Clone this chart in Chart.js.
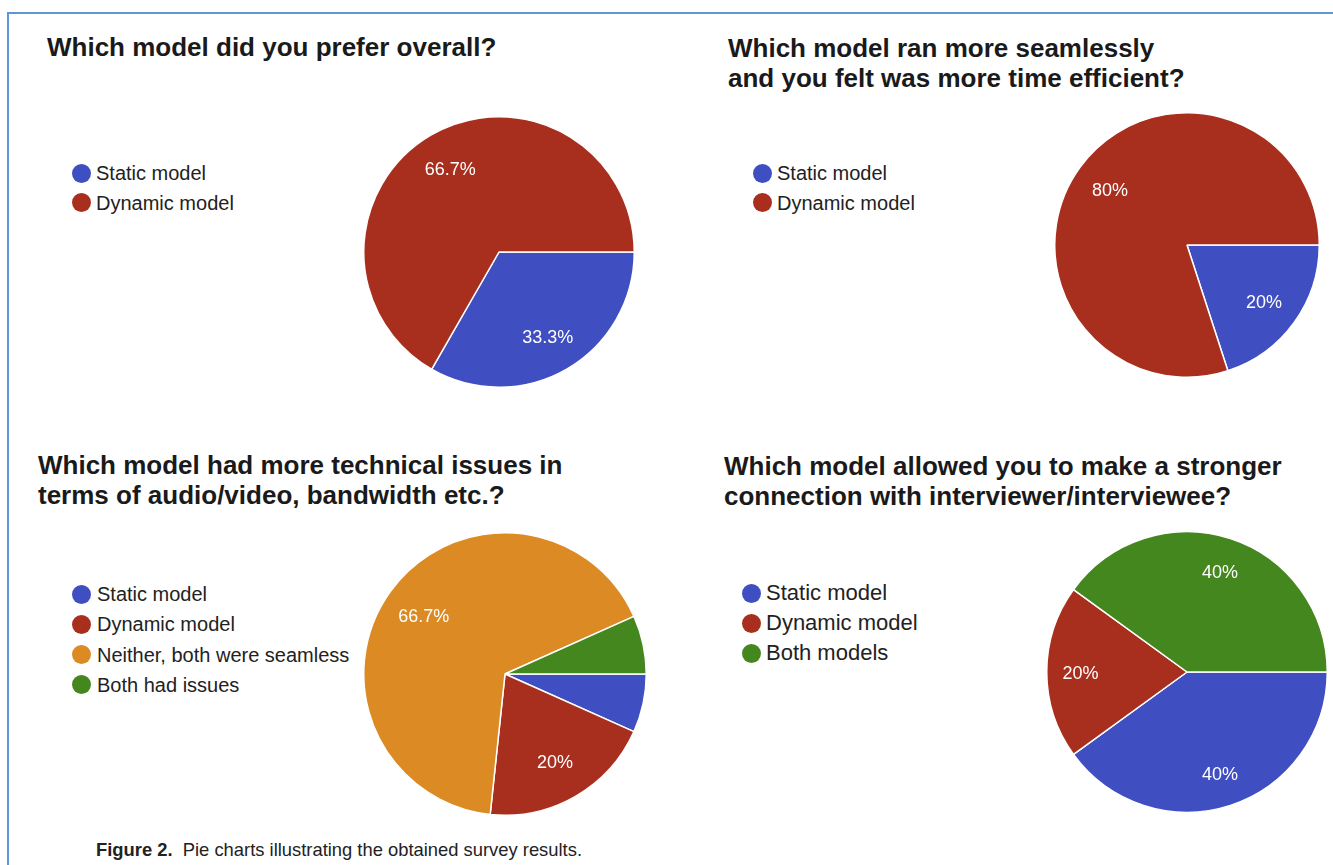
<!DOCTYPE html>
<html>
<head>
<meta charset="utf-8">
<script src="https://cdn.jsdelivr.net/npm/chart.js@4/dist/chart.umd.min.js"></script>
<style>
  html, body { margin: 0; padding: 0; background: #ffffff; }
  body { width: 1333px; height: 865px; position: relative; overflow: hidden; font-family: "Liberation Sans", Arial, sans-serif; }
  .abs { position: absolute; white-space: nowrap; }
  .title { font-weight: bold; font-size: 26px; line-height: 30px; color: #1a1a1a; }
  .leg { font-size: 20px; line-height: 30px; color: #222; }
  .dot { position: absolute; border-radius: 50%; }
  .cap { font-family: "Liberation Sans", Arial, sans-serif; font-size: 19px; line-height: 22px; color: #222; transform-origin: 0 0; }
  #bt { position: absolute; left: 7px; top: 12px; width: 1326px; height: 2px; background: #5b97d9; }
  #bl { position: absolute; left: 7px; top: 12px; width: 2px; height: 853px; background: #5b97d9; }
</style>
</head>
<body>
<div id="bt"></div><div id="bl"></div>
<script>
// ---- data ----
const preferLabels = ['Static model', 'Dynamic model'];
const preferValues = [33.3, 66.7];

const seamlessLabels = ['Static model', 'Dynamic model'];
const seamlessValues = [20, 80];

const techLabels = ['Static model', 'Dynamic model', 'Neither, both were seamless', 'Both had issues'];
const techValues = [6.7, 20, 66.7, 6.7];

const connLabels = ['Static model', 'Dynamic model', 'Both models'];
const connValues = [40, 20, 40];

const titles = [
  ['Which model did you prefer overall?'],
  ['Which model ran more seamlessly', 'and you felt was more time efficient?'],
  ['Which model had more technical issues in', 'terms of audio/video, bandwidth etc.?'],
  ['Which model allowed you to make a stronger', 'connection with interviewer/interviewee?']
];
const captionBold = 'Figure 2.';
const captionText = 'Pie charts illustrating the obtained survey results.';

// ---- styles / layout ----
const BLUE = '#3f4ec0', RED = '#a82f1e', ORANGE = '#dc8a24', GREEN = '#45871f';

const layouts = [
  { labels: preferLabels, values: preferValues, colors: [BLUE, RED], cx: 499, cy: 252, r: 136, lf: 0.72,
    tx: 47, ty: 32, lx: 81, ly: 173, lstep: 29.5, lfont: 20, ltx: 96 },
  { labels: seamlessLabels, values: seamlessValues, colors: [BLUE, RED], cx: 1187, cy: 245, r: 133, lf: 0.72,
    tx: 728, ty: 33, lx: 762, ly: 173, lstep: 29.5, lfont: 20, ltx: 777 },
  { labels: techLabels, values: techValues, colors: [BLUE, RED, ORANGE, GREEN], cx: 505, cy: 674, r: 142, lf: 0.71,
    tx: 38, ty: 450, lx: 81, ly: 594, lstep: 30.3, lfont: 20, ltx: 97 },
  { labels: connLabels, values: connValues, colors: [BLUE, RED, GREEN], cx: 1187, cy: 672, r: 141, lf: 0.76,
    tx: 724, ty: 451, lx: 751, ly: 593, lstep: 30, lfont: 22, ltx: 766 }
];

function fmt(v) { return (Math.round(v) === v ? v : v.toFixed(1)) + '%'; }

const sliceLabelPlugin = {
  id: 'sliceLabels',
  afterDatasetsDraw(chart, args, opts) {
    const ctx = chart.ctx;
    const meta = chart.getDatasetMeta(0);
    const data = chart.data.datasets[0].data;
    ctx.save();
    ctx.fillStyle = '#ffffff';
    ctx.font = '18px "Liberation Sans", Arial, sans-serif';
    ctx.textAlign = 'center';
    ctx.textBaseline = 'middle';
    meta.data.forEach((arc, i) => {
      if (data[i] < 10) return;
      const p = arc.getProps(['x', 'y', 'startAngle', 'endAngle', 'outerRadius'], true);
      const a = (p.startAngle + p.endAngle) / 2;
      const rr = p.outerRadius * opts.factor;
      ctx.fillText(fmt(data[i]), p.x + Math.cos(a) * rr, p.y + Math.sin(a) * rr + 2);
    });
    ctx.restore();
  }
};

function addDiv(cls, text, left, top, extra) {
  const d = document.createElement('div');
  d.className = 'abs ' + cls;
  d.textContent = text;
  d.style.left = left + 'px';
  d.style.top = top + 'px';
  if (extra) Object.assign(d.style, extra);
  document.body.appendChild(d);
  return d;
}

layouts.forEach((L, k) => {
  titles[k].forEach((line, j) => addDiv('title', line, L.tx, L.ty + j * 30));
  L.labels.forEach((lab, i) => {
    const cy = L.ly + i * L.lstep;
    const dot = document.createElement('div');
    dot.className = 'dot';
    const rad = 9.5;
    dot.style.left = (L.lx - rad) + 'px';
    dot.style.top = (cy - rad) + 'px';
    dot.style.width = (2 * rad) + 'px';
    dot.style.height = (2 * rad) + 'px';
    dot.style.background = L.colors[i];
    document.body.appendChild(dot);
    addDiv('leg', lab, L.ltx, cy - 15, { fontSize: L.lfont + 'px' });
  });
  const pad = 2;
  const size = 2 * L.r + 2 * pad;
  const c = document.createElement('canvas');
  c.width = size; c.height = size;
  c.style.position = 'absolute';
  c.style.left = (L.cx - size / 2) + 'px';
  c.style.top = (L.cy - size / 2) + 'px';
  c.style.width = size + 'px';
  c.style.height = size + 'px';
  document.body.appendChild(c);
  new Chart(c.getContext('2d'), {
    type: 'pie',
    data: {
      labels: L.labels,
      datasets: [{
        data: L.values,
        backgroundColor: L.colors,
        borderColor: '#ffffff',
        borderWidth: 1.5
      }]
    },
    options: {
      responsive: false,
      animation: false,
      rotation: 90,
      layout: { padding: pad },
      plugins: {
        legend: { display: false },
        tooltip: { enabled: false },
        sliceLabels: { factor: L.lf }
      }
    },
    plugins: [sliceLabelPlugin]
  });
});

// caption (condensed look via horizontal scaling)
const cap = document.createElement('div');
cap.className = 'abs cap';
cap.style.left = '96px';
cap.style.top = '839px';
const b = document.createElement('b');
b.textContent = captionBold;
cap.appendChild(b);
cap.appendChild(document.createTextNode('\u00a0 ' + captionText));
document.body.appendChild(cap);
const natural = cap.getBoundingClientRect().width;
cap.style.transform = 'scaleX(' + (486 / natural) + ')';
</script>
</body>
</html>
